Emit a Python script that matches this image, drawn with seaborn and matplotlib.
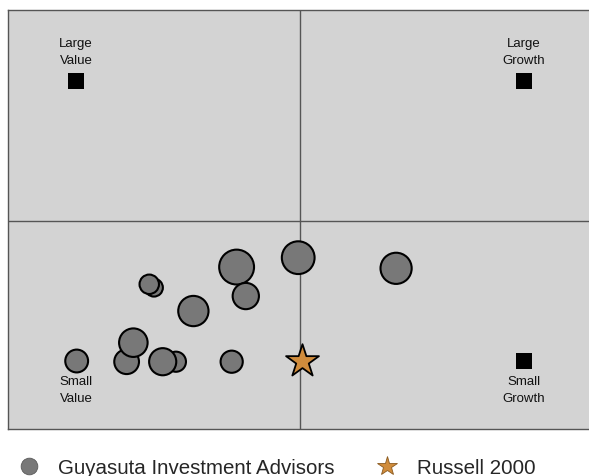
import pandas as pd
import seaborn as sns
import matplotlib.pyplot as plt
from matplotlib.lines import Line2D

# manager positions on style map (value=-1 .. growth=+1, small=-1 .. large=+1)
mgr_x = [-0.997, -0.774, -0.744, -0.554, -0.613, -0.305, -0.652, -0.673, -0.476, -0.283, -0.242, -0.008, 0.429]
mgr_y = [-1.000, -1.005, -0.869, -1.005, -1.005, -1.005, -0.476, -0.452, -0.643, -0.329, -0.536, -0.262, -0.338]
mgr_size = [270, 317, 422, 210, 382, 255, 165, 196, 476, 630, 358, 556, 504]

bench_x = [0.008]
bench_y = [-1.0]
bench_name = "Russell 2000"
mgr_name = "Guyasuta Investment Advisors"

corner_x = [-1, 1, -1, 1]
corner_y = [1, 1, -1, -1]
corner_labels = ["Large\nValue", "Large\nGrowth", "Small\nValue", "Small\nGrowth"]

sns.set_style("white")
plt.rcParams['font.family'] = ['Liberation Sans', 'DejaVu Sans']

fig = plt.figure(figsize=(5.89, 4.77), dpi=100)
ax = fig.add_axes([8/589, 47.5/477, 584/589, 418.5/477])
ax.set_facecolor("#d3d3d3")

ax.axhline(0, color="#555555", lw=1, zorder=1)
ax.axvline(0, color="#555555", lw=1, zorder=1)

corners = pd.DataFrame({"x": corner_x, "y": corner_y, "label": corner_labels})
sns.scatterplot(data=corners, x="x", y="y", marker="s", s=120, color="black",
                edgecolor="black", linewidth=0, ax=ax, zorder=3, legend=False)
for _, r in corners.iterrows():
    if r["y"] > 0:
        ax.annotate(r["label"], (r["x"], r["y"]), xytext=(0, 11), textcoords="offset points",
                    ha="center", va="bottom", fontsize=9.5, color="#111111", linespacing=1.55)
    else:
        ax.annotate(r["label"], (r["x"], r["y"]), xytext=(0, -10), textcoords="offset points",
                    ha="center", va="top", fontsize=9.5, color="#111111", linespacing=1.55)

mgr = pd.DataFrame({"x": mgr_x, "y": mgr_y, "w": mgr_size})
sns.scatterplot(data=mgr, x="x", y="y", size="w", sizes=(min(mgr_size), max(mgr_size)),
                size_norm=(min(mgr_size), max(mgr_size)), color="#787878",
                edgecolor="black", linewidth=1.5, alpha=1, ax=ax, zorder=4, legend=False)

bench = pd.DataFrame({"x": bench_x, "y": bench_y})
sns.scatterplot(data=bench, x="x", y="y", marker="*", s=620, color="#d08c3c",
                edgecolor="black", linewidth=1.3, ax=ax, zorder=5, legend=False)

ax.set_xlim(-1.3036, 1.3036)
ax.set_ylim(-1.482, 1.507)
ax.set_xticks([])
ax.set_yticks([])
ax.set_xlabel("")
ax.set_ylabel("")
for s in ["left", "top", "bottom"]:
    ax.spines[s].set_color("#555555")
    ax.spines[s].set_linewidth(1)
ax.spines["right"].set_visible(False)

handles = [
    Line2D([], [], marker="o", ls="", markersize=12, markerfacecolor="#787878",
           markeredgecolor="#5a5a5a", markeredgewidth=0.6),
    Line2D([], [], marker="*", ls="", markersize=15, markerfacecolor="#d08c3c",
           markeredgecolor="#8a5a20", markeredgewidth=0.6),
]
fig.legend(handles, [mgr_name, bench_name], loc="center left", bbox_to_anchor=(8/589, 8/477),
           ncol=2, frameon=False, fontsize=14.8, handlelength=1.2, handletextpad=0.85,
           columnspacing=1.95, borderaxespad=0)

fig.savefig("out.png", dpi=100)
